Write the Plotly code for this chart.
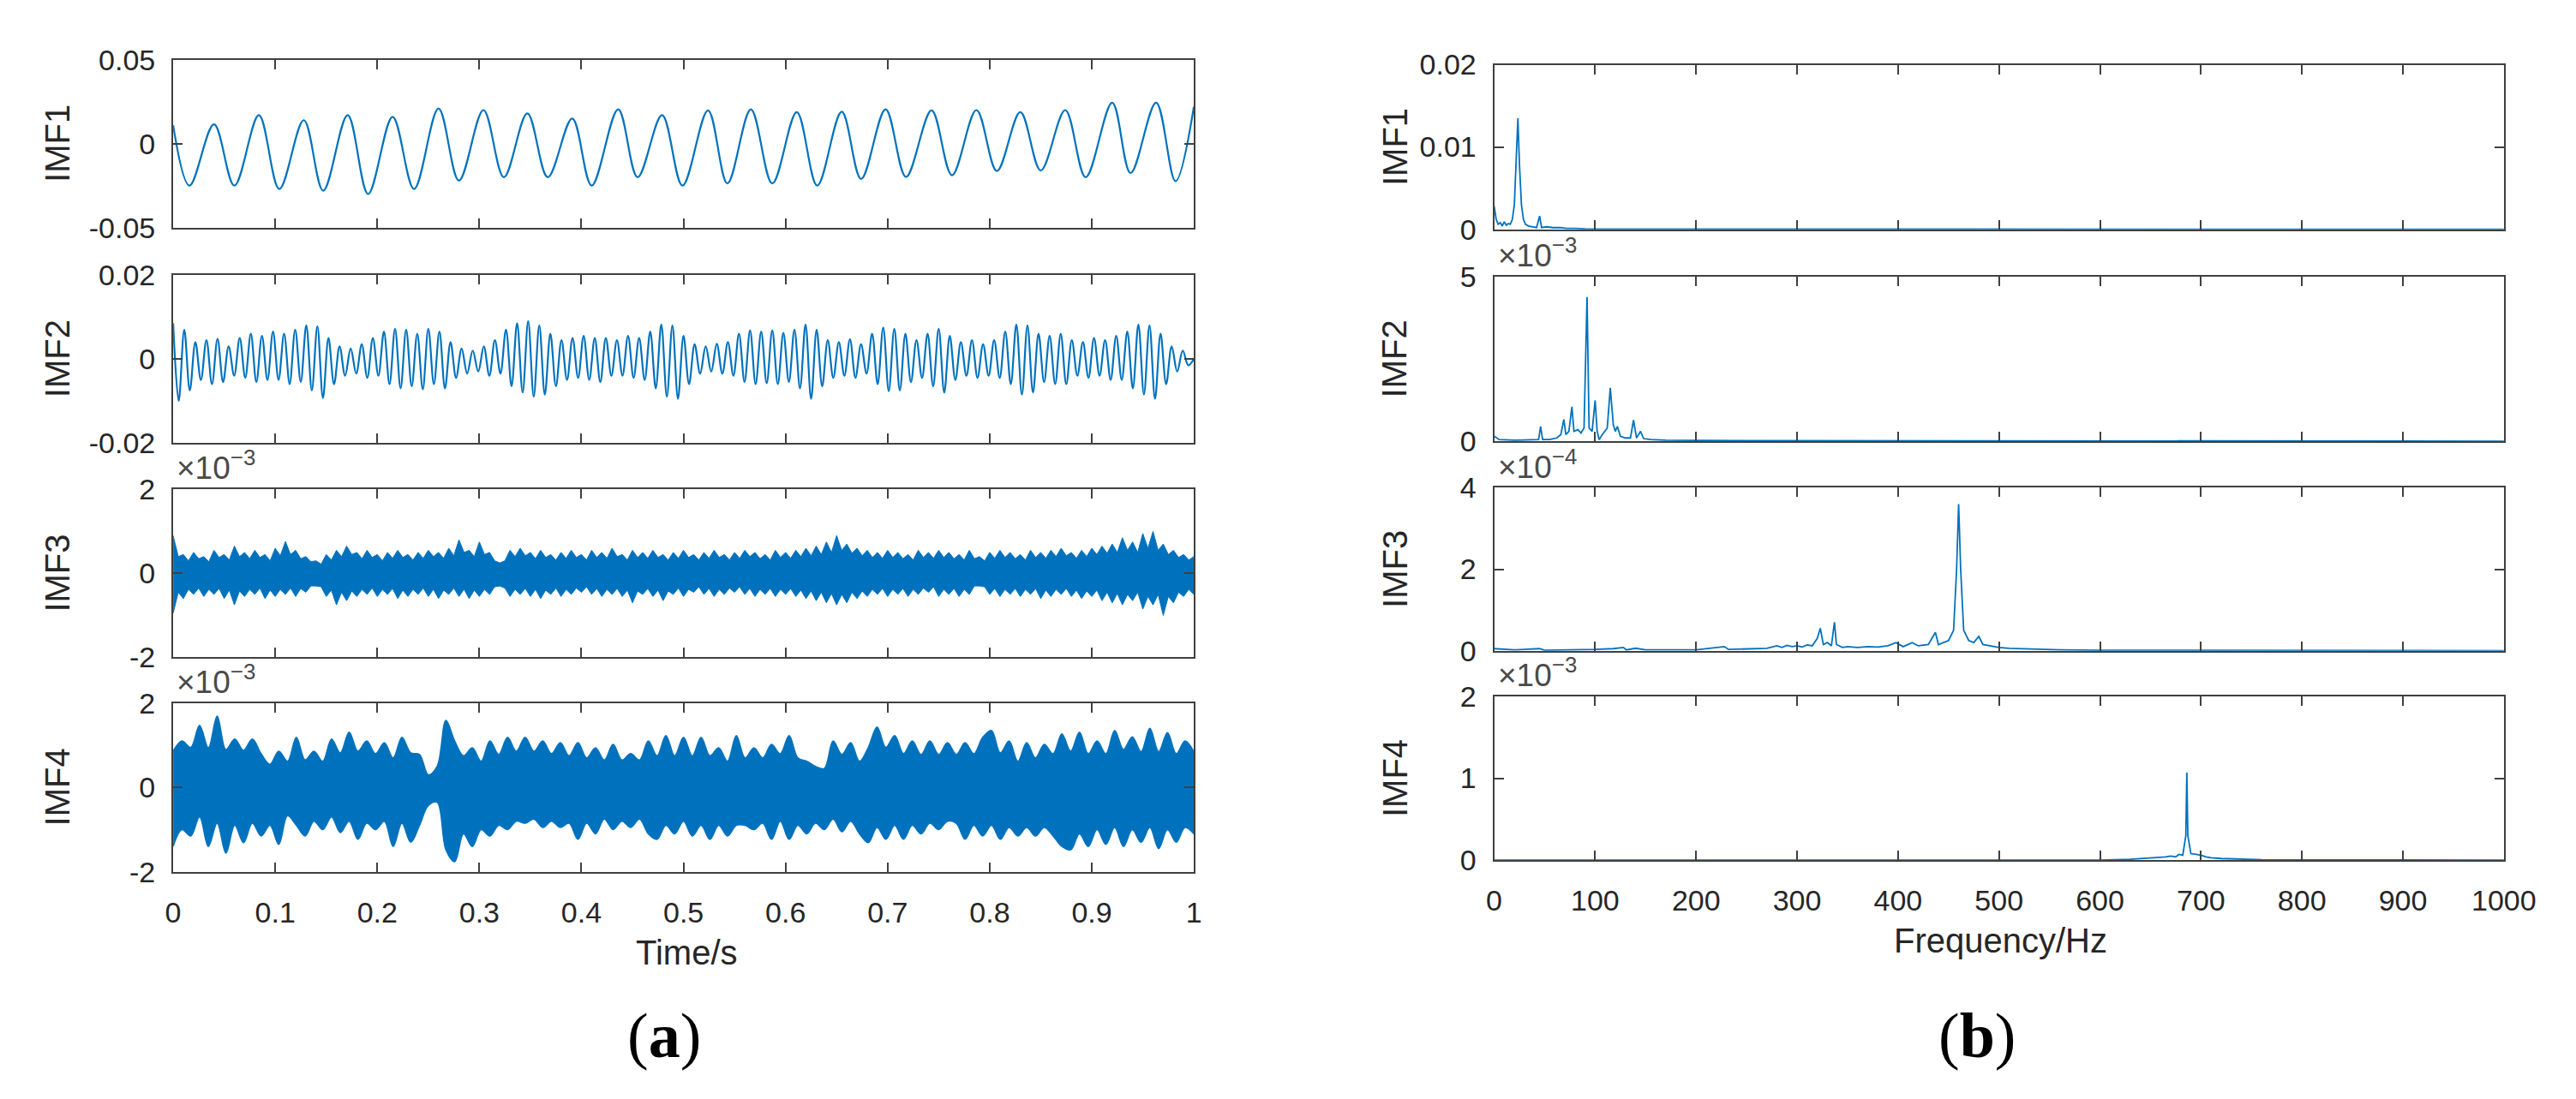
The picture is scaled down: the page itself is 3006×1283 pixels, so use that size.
import plotly.graph_objects as go

# ---------------- data ----------------
# IMF1: times and values of successive peaks / troughs (s, amplitude)
imf1_t = [0.000, 0.016, 0.040, 0.060, 0.084, 0.104, 0.128, 0.147, 0.171, 0.191,
          0.215, 0.236, 0.260, 0.280, 0.304, 0.324, 0.347, 0.367, 0.391, 0.410,
          0.436, 0.455, 0.479, 0.499, 0.524, 0.543, 0.566, 0.587, 0.611, 0.631,
          0.655, 0.674, 0.698, 0.718, 0.743, 0.763, 0.787, 0.807, 0.830, 0.850,
          0.874, 0.894, 0.920, 0.938, 0.963, 0.982, 1.000]
imf1_v = [0.0110, -0.0250, 0.0115, -0.0250, 0.0170, -0.0270, 0.0140, -0.0280, 0.0170, -0.0300,
          0.0160, -0.0270, 0.0210, -0.0220, 0.0200, -0.0200, 0.0180, -0.0200, 0.0150, -0.0250,
          0.0205, -0.0200, 0.0170, -0.0250, 0.0198, -0.0237, 0.0205, -0.0237, 0.0188, -0.0250,
          0.0190, -0.0210, 0.0205, -0.0198, 0.0198, -0.0188, 0.0200, -0.0163, 0.0188, -0.0160,
          0.0200, -0.0200, 0.0244, -0.0175, 0.0244, -0.0223, 0.0220]

# IMF2: successive peak / trough values, evenly spaced from 0 s to 1 s
imf2_v = [0.0085, -0.0100, 0.0070, -0.0075, 0.0040, -0.0050, 0.0045, -0.0060, 0.0048, -0.0055,
          0.0030, -0.0040, 0.0050, -0.0045, 0.0060, -0.0055, 0.0055, -0.0050, 0.0065, -0.0050,
          0.0060, -0.0060, 0.0070, -0.0055, 0.0080, -0.0075, 0.0078, -0.0093, 0.0050, -0.0060,
          0.0030, -0.0040, 0.0025, -0.0035, 0.0035, -0.0045, 0.0050, -0.0040, 0.0065, -0.0060,
          0.0072, -0.0070, 0.0070, -0.0065, 0.0060, -0.0072, 0.0072, -0.0060, 0.0065, -0.0070,
          0.0040, -0.0045, 0.0025, -0.0035, 0.0020, -0.0030, 0.0030, -0.0040, 0.0045, -0.0035,
          0.0070, -0.0065, 0.0085, -0.0080, 0.0090, -0.0090, 0.0080, -0.0085, 0.0060, -0.0065,
          0.0045, -0.0050, 0.0050, -0.0045, 0.0055, -0.0050, 0.0050, -0.0055, 0.0050, -0.0040,
          0.0045, -0.0040, 0.0055, -0.0045, 0.0050, -0.0050, 0.0065, -0.0070, 0.0082, -0.0090,
          0.0080, -0.0095, 0.0055, -0.0060, 0.0035, -0.0035, 0.0030, -0.0030, 0.0036, -0.0035,
          0.0040, -0.0040, 0.0060, -0.0055, 0.0068, -0.0060, 0.0065, -0.0058, 0.0068, -0.0060,
          0.0062, -0.0055, 0.0070, -0.0070, 0.0082, -0.0095, 0.0070, -0.0065, 0.0045, -0.0045,
          0.0040, -0.0040, 0.0047, -0.0045, 0.0035, -0.0035, 0.0060, -0.0060, 0.0075, -0.0077,
          0.0072, -0.0075, 0.0060, -0.0055, 0.0045, -0.0045, 0.0060, -0.0065, 0.0072, -0.0080,
          0.0055, -0.0050, 0.0040, -0.0040, 0.0045, -0.0045, 0.0035, -0.0040, 0.0045, -0.0045,
          0.0065, -0.0060, 0.0082, -0.0085, 0.0080, -0.0080, 0.0060, -0.0055, 0.0055, -0.0060,
          0.0060, -0.0060, 0.0045, -0.0040, 0.0040, -0.0045, 0.0050, -0.0040, 0.0045, -0.0050,
          0.0055, -0.0050, 0.0065, -0.0070, 0.0082, -0.0085, 0.0080, -0.0095, 0.0060, -0.0060,
          0.0030, -0.0030, 0.0020, -0.0015, 0.0000]

# IMF3 (x1e-3): spiky upper / lower edge of the dense band, evenly spaced 0 s .. 1 s
imf3_upper = [0.90, 0.40, 0.45, 0.30, 0.50, 0.35, 0.40, 0.28, 0.55, 0.38, 0.45, 0.32, 0.65, 0.40,
              0.50, 0.35, 0.55, 0.38, 0.45, 0.30, 0.60, 0.42, 0.76, 0.45, 0.55, 0.35, 0.40, 0.28,
              0.30, 0.22, 0.45, 0.32, 0.55, 0.40, 0.65, 0.45, 0.50, 0.35, 0.55, 0.38, 0.45, 0.30,
              0.50, 0.36, 0.55, 0.38, 0.45, 0.32, 0.50, 0.36, 0.55, 0.40, 0.50, 0.36, 0.60, 0.42,
              0.80, 0.50, 0.55, 0.40, 0.75, 0.45, 0.50, 0.30, 0.25, 0.30, 0.55, 0.40, 0.60, 0.42,
              0.50, 0.35, 0.55, 0.38, 0.45, 0.32, 0.50, 0.36, 0.55, 0.38, 0.45, 0.32, 0.55, 0.38,
              0.50, 0.36, 0.60, 0.40, 0.45, 0.32, 0.55, 0.38, 0.50, 0.36, 0.55, 0.38, 0.45, 0.32,
              0.50, 0.36, 0.55, 0.38, 0.45, 0.32, 0.50, 0.36, 0.55, 0.38, 0.45, 0.32, 0.50, 0.36,
              0.55, 0.40, 0.50, 0.35, 0.45, 0.32, 0.55, 0.38, 0.50, 0.36, 0.55, 0.40, 0.60, 0.42,
              0.65, 0.45, 0.75, 0.50, 0.90, 0.55, 0.70, 0.48, 0.60, 0.42, 0.55, 0.38, 0.50, 0.36,
              0.55, 0.38, 0.50, 0.35, 0.45, 0.32, 0.55, 0.38, 0.50, 0.36, 0.55, 0.38, 0.50, 0.35,
              0.45, 0.32, 0.55, 0.35, 0.40, 0.30, 0.50, 0.36, 0.55, 0.38, 0.50, 0.35, 0.45, 0.32,
              0.55, 0.38, 0.50, 0.36, 0.55, 0.40, 0.60, 0.42, 0.50, 0.36, 0.55, 0.40, 0.60, 0.45,
              0.65, 0.48, 0.70, 0.50, 0.85, 0.55, 0.75, 0.50, 0.95, 0.60, 1.00, 0.55, 0.70, 0.45,
              0.55, 0.38, 0.45, 0.32, 0.40]
imf3_lower = [-0.95, -0.45, -0.60, -0.38, -0.50, -0.35, -0.55, -0.38, -0.50, -0.36, -0.60, -0.40,
              -0.75, -0.42, -0.55, -0.38, -0.50, -0.35, -0.60, -0.40, -0.55, -0.38, -0.50, -0.35,
              -0.55, -0.36, -0.45, -0.30, -0.30, -0.32, -0.55, -0.40, -0.75, -0.45, -0.65, -0.42,
              -0.55, -0.38, -0.50, -0.35, -0.55, -0.38, -0.50, -0.36, -0.60, -0.40, -0.55, -0.38,
              -0.50, -0.35, -0.55, -0.38, -0.60, -0.40, -0.50, -0.35, -0.55, -0.38, -0.60, -0.40,
              -0.55, -0.38, -0.50, -0.32, -0.30, -0.35, -0.55, -0.38, -0.50, -0.36, -0.55, -0.38,
              -0.60, -0.40, -0.50, -0.35, -0.55, -0.38, -0.50, -0.35, -0.45, -0.32, -0.50, -0.36,
              -0.55, -0.38, -0.50, -0.36, -0.55, -0.40, -0.70, -0.42, -0.50, -0.36, -0.55, -0.40,
              -0.65, -0.42, -0.50, -0.35, -0.55, -0.38, -0.45, -0.32, -0.50, -0.36, -0.55, -0.38,
              -0.50, -0.35, -0.45, -0.32, -0.50, -0.36, -0.55, -0.38, -0.50, -0.36, -0.55, -0.38,
              -0.50, -0.36, -0.55, -0.40, -0.60, -0.42, -0.65, -0.45, -0.70, -0.48, -0.75, -0.50,
              -0.70, -0.45, -0.60, -0.42, -0.55, -0.38, -0.50, -0.36, -0.55, -0.38, -0.50, -0.36,
              -0.55, -0.38, -0.50, -0.35, -0.45, -0.32, -0.55, -0.38, -0.50, -0.36, -0.55, -0.38,
              -0.50, -0.30, -0.30, -0.32, -0.50, -0.36, -0.55, -0.38, -0.50, -0.36, -0.55, -0.38,
              -0.50, -0.36, -0.60, -0.40, -0.55, -0.38, -0.50, -0.36, -0.55, -0.40, -0.60, -0.42,
              -0.55, -0.40, -0.65, -0.45, -0.70, -0.48, -0.75, -0.50, -0.65, -0.45, -0.85, -0.55,
              -0.75, -0.50, -1.00, -0.55, -0.70, -0.45, -0.55, -0.38, -0.50]

# IMF4 (x1e-3): upper / lower edge of the dense band, evenly spaced 0 s .. 1 s
imf4_upper = [0.86, 1.10, 0.95, 1.47, 0.94, 1.69, 0.90, 1.15, 0.88, 1.15,
              0.80, 0.55, 0.86, 0.62, 1.19, 0.65, 0.86, 0.62, 1.15, 0.82,
              1.31, 0.86, 1.10, 0.80, 1.06, 0.70, 1.19, 0.82, 0.78, 0.30,
              0.50, 1.59, 1.10, 0.75, 0.94, 0.62, 1.10, 0.78, 1.19, 0.86,
              1.19, 0.86, 1.10, 0.80, 1.06, 0.75, 1.06, 0.70, 0.94, 0.65,
              1.02, 0.65, 0.80, 0.65, 1.10, 0.75, 1.23, 0.75, 1.19, 0.75,
              1.19, 0.75, 0.94, 0.62, 1.23, 0.70, 0.94, 0.70, 1.02, 0.80,
              1.23, 0.70, 0.62, 0.50, 0.45, 1.10, 0.78, 1.06, 0.62, 0.95,
              1.43, 0.95, 1.23, 0.80, 1.10, 0.78, 1.10, 0.78, 1.06, 0.78,
              1.06, 0.80, 1.19, 1.35, 0.82, 1.10, 0.62, 1.06, 0.70, 1.02,
              0.80, 1.27, 0.86, 1.31, 0.80, 1.10, 0.80, 1.35, 0.90, 1.20,
              0.85, 1.40, 0.85, 1.30, 0.80, 1.10, 0.85]
imf4_lower = [-1.40, -1.00, -1.15, -0.70, -1.40, -0.85, -1.56, -0.90, -1.31, -0.85,
              -1.15, -0.90, -1.35, -0.67, -0.90, -1.15, -0.80, -1.00, -0.70, -1.07,
              -0.80, -1.23, -0.85, -1.00, -0.80, -1.40, -0.85, -1.30, -0.90, -0.43,
              -0.35, -1.48, -1.76, -1.10, -1.40, -1.00, -1.15, -0.90, -1.00, -0.80,
              -0.85, -0.75, -0.95, -0.80, -0.95, -0.85, -1.23, -0.85, -1.10, -0.75,
              -1.00, -0.80, -0.95, -0.75, -1.10, -1.23, -0.90, -1.10, -0.80, -1.15,
              -0.90, -1.23, -0.90, -1.15, -0.90, -0.90, -1.00, -0.85, -1.23, -0.80,
              -1.23, -0.90, -1.10, -0.85, -1.00, -0.75, -1.05, -0.80, -1.10, -1.31,
              -0.95, -1.23, -0.90, -1.23, -0.90, -1.10, -0.85, -1.00, -0.80, -0.85,
              -1.23, -0.90, -1.15, -0.90, -1.23, -0.95, -1.15, -0.95, -1.15, -0.95,
              -1.15, -1.40, -1.48, -1.10, -1.40, -1.00, -1.35, -0.95, -1.40, -1.00,
              -1.30, -0.95, -1.45, -1.00, -1.30, -0.95, -1.10]

# spectra: frequency (Hz) and amplitude
spec1_f = [0, 2, 4, 6, 8, 10, 12, 14, 16, 18, 20, 22, 23.5, 25, 27, 29, 31, 34, 38, 42,
           45, 47, 52, 58, 65, 72, 80, 90, 120, 200, 400, 1000]
spec1_a = [0.0028, 0.0012, 0.0006, 0.0008, 0.0004, 0.0009, 0.0005, 0.0007, 0.0006, 0.0012,
           0.0030, 0.0090, 0.0135, 0.0080, 0.0030, 0.0012, 0.0006, 0.0004, 0.0003, 0.0002,
           0.0016, 0.0002, 0.0003, 0.0002, 0.0002, 0.0001, 0.0001, 0.00005, 0.00003, 0.00002,
           0.00001, 0.0]

spec2_f = [0, 5, 20, 40, 44, 46, 48, 55, 62, 66, 69, 71, 74, 77, 79, 83, 86, 89, 92, 94,
           97, 100, 102, 104, 107, 112, 115, 118, 120, 122, 125, 130, 135, 138, 141, 145, 148,
           155, 170, 250, 500, 1000]
spec2_a = [0.15, 0.05, 0.03, 0.05, 0.05, 0.45, 0.05, 0.05, 0.10, 0.20, 0.66, 0.20, 0.30, 1.05,
           0.30, 0.35, 0.25, 0.40, 4.38, 0.40, 0.30, 1.24, 0.30, 0.05, 0.20, 0.40, 1.62, 0.50,
           0.30, 0.45, 0.15, 0.10, 0.10, 0.64, 0.10, 0.30, 0.08, 0.05, 0.03, 0.02, 0.01, 0.0]

spec3_f = [0, 20, 45, 50, 100, 118, 128, 131, 140, 150, 200, 228, 232, 250, 270, 280, 285,
           290, 295, 300, 305, 310, 315, 320, 323, 326, 330, 334, 337, 339, 345, 350, 360,
           370, 380, 390, 398, 405, 414, 420, 430, 437, 440, 445, 450, 455, 458, 460, 462,
           465, 470, 475, 480, 484, 490, 500, 510, 520, 540, 560, 600, 1000]
spec3_a = [0.05, 0.02, 0.05, 0.01, 0.03, 0.05, 0.08, 0.02, 0.06, 0.02, 0.02, 0.10, 0.03,
           0.04, 0.06, 0.12, 0.08, 0.13, 0.10, 0.12, 0.09, 0.14, 0.12, 0.30, 0.55, 0.15,
           0.20, 0.12, 0.70, 0.15, 0.08, 0.10, 0.08, 0.10, 0.09, 0.12, 0.20, 0.10, 0.20,
           0.12, 0.15, 0.45, 0.15, 0.20, 0.25, 0.50, 2.00, 3.60, 2.00, 0.50, 0.25, 0.20,
           0.35, 0.15, 0.12, 0.08, 0.06, 0.05, 0.03, 0.02, 0.01, 0.0]

spec4_f = [0, 600, 630, 645, 650, 660, 665, 670, 675, 678, 682, 685, 686, 687, 690, 695,
           700, 705, 710, 720, 740, 760, 1000]
spec4_a = [0.0, 0.0, 0.01, 0.02, 0.03, 0.03, 0.04, 0.05, 0.04, 0.07, 0.06, 0.30, 1.07, 0.30,
           0.08, 0.07, 0.06, 0.04, 0.03, 0.02, 0.01, 0.005, 0.0]

panel_names = ["IMF1", "IMF2", "IMF3", "IMF4"]
time_ticks = [0, 0.1, 0.2, 0.3, 0.4, 0.5, 0.6, 0.7, 0.8, 0.9, 1]
time_tick_labels = ["0", "0.1", "0.2", "0.3", "0.4", "0.5", "0.6", "0.7", "0.8", "0.9", "1"]
freq_ticks = [0, 100, 200, 300, 400, 500, 600, 700, 800, 900, 1000]
freq_tick_labels = ["0", "100", "200", "300", "400", "500", "600", "700", "800", "900", "1000"]
left_yticks = [[-0.05, 0, 0.05], [-0.02, 0, 0.02], [-2, 0, 2], [-2, 0, 2]]
left_ylabels = [["-0.05", "0", "0.05"], ["-0.02", "0", "0.02"], ["-2", "0", "2"], ["-2", "0", "2"]]
right_yticks = [[0, 0.01, 0.02], [0, 5], [0, 2, 4], [0, 1, 2]]
right_ylabels = [["0", "0.01", "0.02"], ["0", "5"], ["0", "2", "4"], ["0", "1", "2"]]
left_exponents = [None, None, "-3", "-3"]
right_exponents = [None, "-3", "-4", "-3"]

# ---------------- layout geometry (pixels of the 3006x1283 page) ----------------
W, H = 3006, 1283
left_boxes = [(188, 44, 1398, 246), (188, 303, 1398, 505),
              (188, 561, 1398, 763), (188, 818, 1398, 1021)]
right_boxes = [(1754, 50, 2951, 248), (1754, 305, 2951, 503),
               (1754, 559, 2951, 755), (1754, 810, 2951, 1007)]

BLUE = "#0072BD"
AXIS = "#404040"
TEXT = "#262626"
FONT = "Liberation Sans, Arial, sans-serif"


def px(x):
    return x / W


def py(y):
    return 1 - y / H


fig = go.Figure()

# left column: time signals
fig.add_trace(go.Scatter(x=imf1_t, y=imf1_v, mode="lines", line=dict(color=BLUE, width=2.2, shape="spline"),
                         xaxis="x1", yaxis="y1"))
fig.add_trace(go.Scatter(y=imf2_v, x0=0, dx=1 / (len(imf2_v) - 1), mode="lines",
                         line=dict(color=BLUE, width=2.2, shape="spline"), xaxis="x2", yaxis="y2"))
fig.add_trace(go.Scatter(y=imf3_lower, x0=0, dx=1 / (len(imf3_lower) - 1), mode="lines",
                         line=dict(color=BLUE, width=1), xaxis="x3", yaxis="y3"))
fig.add_trace(go.Scatter(y=imf3_upper, x0=0, dx=1 / (len(imf3_upper) - 1), mode="lines",
                         line=dict(color=BLUE, width=1), fill="tonexty", fillcolor=BLUE,
                         xaxis="x3", yaxis="y3"))
fig.add_trace(go.Scatter(y=imf4_lower, x0=0, dx=1 / (len(imf4_lower) - 1), mode="lines",
                         line=dict(color=BLUE, width=1.5, shape="spline"), xaxis="x4", yaxis="y4"))
fig.add_trace(go.Scatter(y=imf4_upper, x0=0, dx=1 / (len(imf4_upper) - 1), mode="lines",
                         line=dict(color=BLUE, width=1.5, shape="spline"), fill="tonexty", fillcolor=BLUE,
                         xaxis="x4", yaxis="y4"))

# right column: spectra
for i, (f, a) in enumerate([(spec1_f, spec1_a), (spec2_f, spec2_a), (spec3_f, spec3_a), (spec4_f, spec4_a)]):
    n = i + 5
    fig.add_trace(go.Scatter(x=f, y=a, mode="lines", line=dict(color=BLUE, width=1.8),
                             xaxis=f"x{n}", yaxis=f"y{n}"))

axis_common = dict(showline=True, linecolor=AXIS, linewidth=2, mirror="ticks", ticks="inside",
                   ticklen=11, tickwidth=2, tickcolor=AXIS, showgrid=False, zeroline=False,
                   tickfont=dict(family=FONT, size=34, color=TEXT))

layout = dict(width=W, height=H, margin=dict(l=0, r=0, t=0, b=0), autosize=False,
              paper_bgcolor="white", plot_bgcolor="white", showlegend=False)
annotations = []

for col in range(2):
    for row in range(4):
        n = col * 4 + row + 1
        l, t, r, b = (left_boxes if col == 0 else right_boxes)[row]
        bottom = row == 3
        if col == 0:
            xr, xt, xl = [0, 1], time_ticks, time_tick_labels
            yt, yl = left_yticks[row], left_ylabels[row]
            expo = left_exponents[row]
        else:
            xr, xt, xl = [0, 1000], freq_ticks, freq_tick_labels
            yt, yl = right_yticks[row], right_ylabels[row]
            expo = right_exponents[row]
        yr = [yt[0], yt[-1]]
        layout[f"xaxis{n}"] = dict(axis_common, domain=[px(l), px(r)], anchor=f"y{n}", range=xr,
                                   tickvals=xt, ticktext=xl, showticklabels=bottom, ticklabelstandoff=16)
        layout[f"yaxis{n}"] = dict(axis_common, domain=[py(b), py(t)], anchor=f"x{n}", range=yr,
                                   tickvals=yt, ticktext=yl, ticklabelstandoff=12)
        # panel name on the left of each axis
        annotations.append(dict(x=px(l - 137 if col == 0 else l - 118), y=py((t + b) / 2), xref="paper",
                                yref="paper", text=panel_names[row], showarrow=False, textangle=-90,
                                font=dict(family=FONT, size=40, color=TEXT), xanchor="center",
                                yanchor="middle"))
        if expo:
            annotations.append(dict(x=px(l + 2), y=py(t - 2), xref="paper", yref="paper",
                                    text="×10<sup>" + expo.replace("-", "−") + "</sup>", showarrow=False,
                                    xanchor="left", yanchor="bottom",
                                    font=dict(family=FONT, size=37, color="#4a4a4a")))

# axis titles and panel captions
annotations.append(dict(x=px(797), y=py(1118), xref="paper", yref="paper", text="Time/s", showarrow=False,
                        font=dict(family=FONT, size=40, color=TEXT), xanchor="center", yanchor="middle"))
annotations.append(dict(x=px(2354), y=py(1104), xref="paper", yref="paper", text="Frequency/Hz",
                        showarrow=False, font=dict(family=FONT, size=40, color=TEXT),
                        xanchor="center", yanchor="middle"))
annotations.append(dict(x=px(770), y=py(1218), xref="paper", yref="paper", text="(<b>a</b>)",
                        showarrow=False, font=dict(family="Liberation Serif, Times New Roman, serif",
                                                   size=74, color="black"),
                        xanchor="center", yanchor="middle"))
annotations.append(dict(x=px(2326), y=py(1218), xref="paper", yref="paper", text="(<b>b</b>)",
                        showarrow=False, font=dict(family="Liberation Serif, Times New Roman, serif",
                                                   size=74, color="black"),
                        xanchor="center", yanchor="middle"))
layout["annotations"] = annotations

fig.update_layout(**layout)
fig.write_html("out.html")
